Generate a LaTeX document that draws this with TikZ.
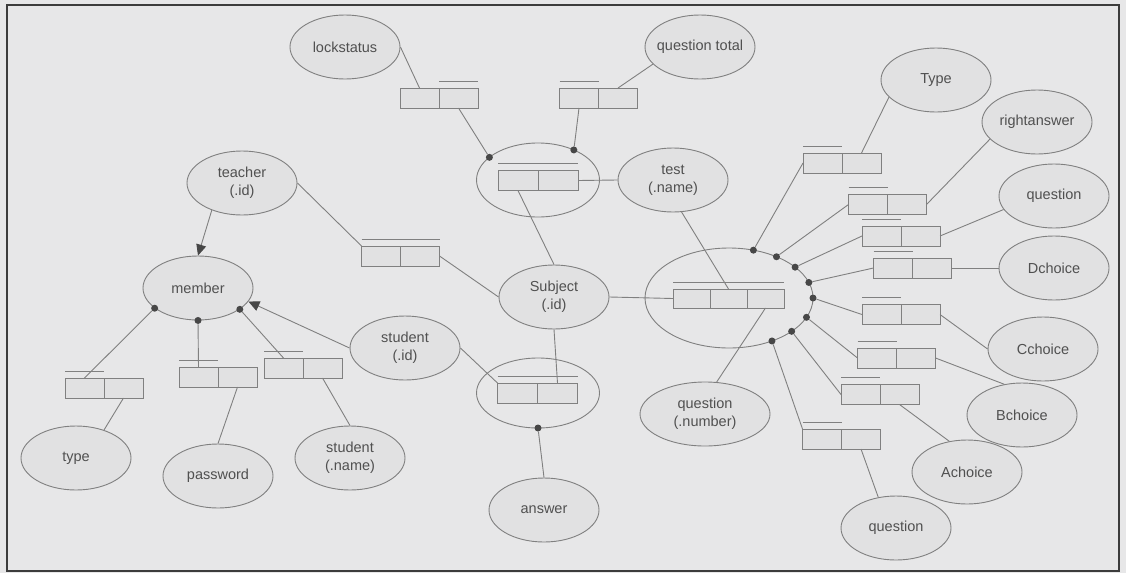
\documentclass[tikz,border=0pt]{standalone}
\usepackage{fontspec}
\setmainfont{Liberation Sans}
\usepackage{tikz}
\usetikzlibrary{shapes.geometric,arrows.meta,calc}

\definecolor{pagebg}{HTML}{E7E7E8}
\definecolor{framegray}{HTML}{3C3C3C}
\definecolor{linegray}{HTML}{808080}
\definecolor{fillgray}{HTML}{E1E1E2}
\definecolor{textgray}{HTML}{505050}
\definecolor{dotgray}{HTML}{474747}

\tikzstyle{conn} = [draw=linegray, line width=0.9pt]
\tikzstyle{arrow} = [conn, -{Triangle[length=11pt, width=10pt, color=dotgray]}]
\tikzstyle{attr} = [
    ellipse,                   % Shape
    draw=linegray,             % Border color
    line width=0.9pt,
    fill=fillgray,             % Subtle background
    minimum width=110pt,       % Width
    minimum height=64pt,       % Height
    inner xsep=-25pt,          % keep the ellipse at its minimum size
    inner ysep=-10pt,
    align=center,              % Two-line labels
    text=textgray,
    font=\fontsize{14.5}{18}\selectfont
]
\tikzstyle{rel} = [ellipse, draw=linegray, line width=0.9pt, inner sep=0pt, outer sep=0pt]
\tikzstyle{pair} = [rectangle, draw=linegray, line width=0.9pt, fill=fillgray,
                    minimum width=78pt, minimum height=20pt, inner sep=0pt, outer sep=0pt,
                    path picture={\draw[conn] (path picture bounding box.north) -- (path picture bounding box.south);}]
\tikzstyle{triple} = [rectangle, draw=linegray, line width=0.9pt, fill=fillgray,
                      minimum width=111pt, minimum height=19pt, inner sep=0pt, outer sep=0pt,
                      path picture={
                        \draw[conn] ($(path picture bounding box.north west)!0.3333!(path picture bounding box.north east)$)
                                 -- ($(path picture bounding box.south west)!0.3333!(path picture bounding box.south east)$);
                        \draw[conn] ($(path picture bounding box.north west)!0.6667!(path picture bounding box.north east)$)
                                 -- ($(path picture bounding box.south west)!0.6667!(path picture bounding box.south east)$);}]
\tikzstyle{dot} = [circle, fill=dotgray, inner sep=0pt, minimum size=7pt]

\begin{document}
\begin{tikzpicture}[x=1pt, y=-1pt]

		\useasboundingbox (0,0) rectangle (1126,573);
		\fill[pagebg] (0,0) rectangle (1126,573);
		\draw[framegray, line width=2pt] (7,5) rectangle (1119,571);

		% Subject and test
		\node[attr] (subject) at (554,297) {Subject\\(.id)};
		\node[rel, minimum width=123pt, minimum height=74pt] (testrel) at (538,180) {};
		\node[pair, minimum width=80pt] (testbox) at (538,180.5) {};
		\node[attr] (testname) at (673,180) {test\\(.name)};
		\node[attr] (lockstatus) at (345,47) {lockstatus};
		\node[pair] (lockbox) at (439,98) {};
		\node[attr] (qtotal) at (700,47) {question total};
		\node[pair] (qtbox) at (598.5,98) {};
		\node[dot] (lockdot) at (testrel.155) {};
		\node[dot] (qtdot) at (testrel.40) {};

		\draw[conn] (lockstatus.east) -- ([xshift=-19.5pt]lockbox.north);
		\draw[conn] ([yshift=7pt]lockbox.north) -- ([yshift=7pt]lockbox.north east);
		\draw[conn] ([xshift=19.5pt]lockbox.south) -- (lockdot);
		\draw[conn] (qtotal.200) -- ([xshift=19.5pt]qtbox.north);
		\draw[conn] ([yshift=7pt]qtbox.north west) -- ([yshift=7pt]qtbox.north);
		\draw[conn] ([xshift=-19.5pt]qtbox.south) -- (qtdot);
		\draw[conn] ([yshift=7pt]testbox.north west) -- ([yshift=7pt]testbox.north east);
		\draw[conn] (testbox.east) -- (testname.west);
		\draw[conn] ([xshift=-20pt]testbox.south) -- (subject.north);

		% Teacher, student and member
		\node[attr] (teacher) at (242,183) {teacher\\(.id)};
		\node[attr] (member) at (198,288) {member};
		\node[attr] (studentid) at (405,348) {student\\(.id)};
		\node[pair] (teachbox) at (400.5,256) {};

		\draw[arrow] (teacher.222) -- (member.north);
		\draw[arrow] (studentid.west) -- (member.345);
		\draw[conn] (teacher.east) -- (teachbox.north west);
		\draw[conn] ([yshift=7pt]teachbox.north west) -- ([yshift=7pt]teachbox.north east);
		\draw[conn] (teachbox.east) -- (subject.west);

		% Member attributes
		\node[attr] (type) at (76,458) {type};
		\node[attr] (password) at (218,476) {password};
		\node[attr] (sname) at (350,458) {student\\(.name)};
		\node[pair] (typebox) at (104,388) {};
		\node[pair] (pwbox) at (218,377) {};
		\node[pair] (snbox) at (303,368) {};
		\node[dot] (typedot) at (member.205) {};
		\node[dot] (pwdot) at (member.south) {};
		\node[dot] (sndot) at (member.333) {};

		\draw[conn] (typedot) -- ([xshift=-19.5pt]typebox.north);
		\draw[conn] ([yshift=7pt]typebox.north west) -- ([yshift=7pt]typebox.north);
		\draw[conn] ([xshift=19.5pt]typebox.south) -- (type.45);
		\draw[conn] (pwdot) -- ([xshift=-19.5pt]pwbox.north);
		\draw[conn] ([yshift=7pt]pwbox.north west) -- ([yshift=7pt]pwbox.north);
		\draw[conn] ([xshift=19.5pt]pwbox.south) -- (password.north);
		\draw[conn] (sndot) -- ([xshift=-19.5pt]snbox.north);
		\draw[conn] ([yshift=7pt]snbox.north west) -- ([yshift=7pt]snbox.north);
		\draw[conn] ([xshift=19.5pt]snbox.south) -- (sname.north);

		% Answer
		\node[rel, minimum width=123pt, minimum height=70pt] (ansrel) at (538,393) {};
		\node[pair, minimum width=80pt] (ansbox) at (537.5,393) {};
		\node[attr] (answer) at (544,510) {answer};
		\node[dot] (ansdot) at (ansrel.south) {};

		\draw[conn] ([yshift=7pt]ansbox.north west) -- ([yshift=7pt]ansbox.north east);
		\draw[conn] (studentid.east) -- (ansbox.north west);
		\draw[conn] (subject.south) -- ([xshift=20pt]ansbox.north);
		\draw[conn] (ansdot) -- (answer.north);

		% Question
		\node[rel, minimum width=168pt, minimum height=100pt] (qrel) at (729,298) {};
		\node[triple] (qbox) at (728.5,298.5) {};
		\node[attr, minimum width=130pt] (qnum) at (705,414) {question\\(.number)};

		\draw[conn] ([yshift=7pt]qbox.north west) -- ([yshift=7pt]qbox.north east);
		\draw[conn] (subject.east) -- (qbox.west);
		\draw[conn] (testname.285) -- (qbox.north);
		\draw[conn] ([xshift=37pt]qbox.south) -- (qnum.70);

		% Question attributes
		\node[attr] (qtype) at (936,80) {Type};
		\node[attr] (right) at (1037,122) {rightanswer};
		\node[attr] (qtext) at (1054,196) {question};
		\node[attr] (dchoice) at (1054,268) {Dchoice};
		\node[attr] (cchoice) at (1043,349) {Cchoice};
		\node[attr] (bchoice) at (1022,415) {Bchoice};
		\node[attr] (achoice) at (967,472) {Achoice};
		\node[attr] (qbody) at (896,528) {question};

		\node[pair] (typekey) at (842,163) {};
		\node[pair] (rightkey) at (887.5,204.5) {};
		\node[pair] (qtextkey) at (901,236) {};
		\node[pair] (dkey) at (912.5,268) {};
		\node[pair] (ckey) at (901,314.5) {};
		\node[pair] (bkey) at (896.5,358) {};
		\node[pair] (akey) at (880,394.5) {};
		\node[pair] (qbodykey) at (841.5,439) {};

		\node[dot] (typedot2) at (qrel.63) {};
		\node[dot] (rightdot) at (qrel.41) {};
		\node[dot] (qtextdot) at (qrel.25) {};
		\node[dot] (ddot) at (qrel.11) {};
		\node[dot] (cdot) at (qrel.0) {};
		\node[dot] (bdot) at (qrel.346) {};
		\node[dot] (adot) at (qrel.332) {};
		\node[dot] (qbodydot) at (qrel.315) {};

		\draw[conn] (typedot2) -- (typekey.west);
		\draw[conn] ([yshift=7pt]typekey.north west) -- ([yshift=7pt]typekey.north);
		\draw[conn] ([xshift=19.5pt]typekey.north) -- (qtype.200);

		\draw[conn] (rightdot) -- (rightkey.west);
		\draw[conn] ([yshift=7pt]rightkey.north west) -- ([yshift=7pt]rightkey.north);
		\draw[conn] (rightkey.east) -- (right.200);

		\draw[conn] (qtextdot) -- (qtextkey.west);
		\draw[conn] ([yshift=7pt]qtextkey.north west) -- ([yshift=7pt]qtextkey.north);
		\draw[conn] (qtextkey.east) -- (qtext.195);

		\draw[conn] (ddot) -- (dkey.west);
		\draw[conn] ([yshift=7pt]dkey.north west) -- ([yshift=7pt]dkey.north);
		\draw[conn] (dkey.east) -- (dchoice.west);

		\draw[conn] (cdot) -- (ckey.west);
		\draw[conn] ([yshift=7pt]ckey.north west) -- ([yshift=7pt]ckey.north);
		\draw[conn] (ckey.east) -- (cchoice.west);

		\draw[conn] (bdot) -- (bkey.west);
		\draw[conn] ([yshift=7pt]bkey.north west) -- ([yshift=7pt]bkey.north);
		\draw[conn] (bkey.east) -- (bchoice.120);

		\draw[conn] (adot) -- (akey.west);
		\draw[conn] ([yshift=7pt]akey.north west) -- ([yshift=7pt]akey.north);
		\draw[conn] ([xshift=19.5pt]akey.south) -- (achoice.120);

		\draw[conn] (qbodydot) -- (qbodykey.north west);
		\draw[conn] ([yshift=7pt]qbodykey.north west) -- ([yshift=7pt]qbodykey.north);
		\draw[conn] ([xshift=19.5pt]qbodykey.south) -- (qbody.120);
	\end{tikzpicture}
\end{document}
